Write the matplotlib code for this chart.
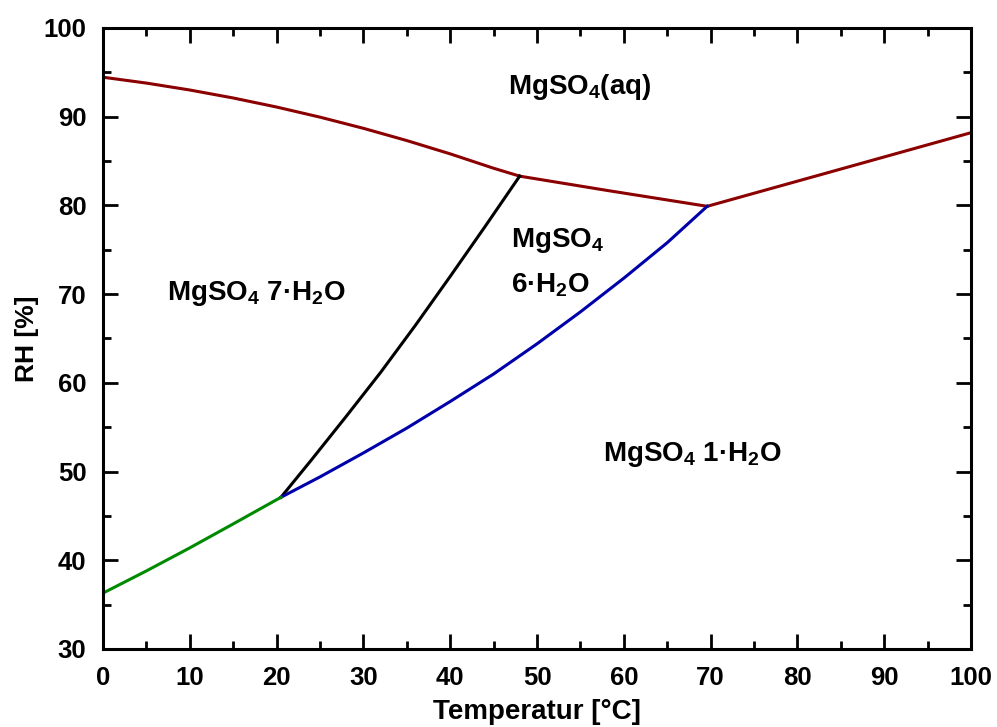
import matplotlib
matplotlib.use("Agg")
import matplotlib.pyplot as plt
from matplotlib.ticker import MultipleLocator

plt.rcParams['font.family'] = ['Liberation Sans', 'DejaVu Sans']
plt.rcParams['font.weight'] = 'bold'
plt.rcParams['mathtext.fontset'] = 'custom'
plt.rcParams['mathtext.rm'] = 'Liberation Sans:bold'
plt.rcParams['mathtext.bf'] = 'Liberation Sans:bold'
plt.rcParams['mathtext.it'] = 'Liberation Sans:bold'
plt.rcParams['mathtext.default'] = 'bf'

# Boundary curves (Temperature in °C, RH in %)
liquidus_T = [0, 5, 10, 15, 20, 25, 30, 35, 40, 45, 48]
liquidus_RH = [94.45, 93.79, 93.01, 92.11, 91.09, 89.95, 88.69, 87.31, 85.81, 84.19, 83.3]
aq_hexa_T = [48, 58, 69.6]
aq_hexa_RH = [83.3, 81.7, 79.9]
aq_mono_T = [69.6, 85, 100]
aq_mono_RH = [79.9, 84.1, 88.2]
hepta_hexa_T = [20.5, 24, 28, 32, 36, 40, 44, 48]
hepta_hexa_RH = [47.1, 51.3, 56.2, 61.2, 66.5, 72.0, 77.6, 83.3]
hexa_mono_T = [20.5, 25, 30, 35, 40, 45, 50, 55, 60, 65, 69.6]
hexa_mono_RH = [47.1, 49.4, 52.1, 54.9, 57.9, 61.0, 64.4, 68.0, 71.8, 75.8, 79.9]
hepta_mono_T = [0, 5, 10, 15, 20.5]
hepta_mono_RH = [36.3, 38.8, 41.4, 44.1, 47.1]

fig = plt.figure(figsize=(9.97, 7.27), dpi=100)
ax = fig.add_axes([0.1033, 0.1073, 0.8707, 0.8542])

red = '#8b0000'
lw = 2.2
ax.plot(liquidus_T, liquidus_RH, color=red, lw=lw)
ax.plot(aq_hexa_T, aq_hexa_RH, color=red, lw=lw)
ax.plot(aq_mono_T, aq_mono_RH, color=red, lw=lw)
ax.plot(hepta_hexa_T, hepta_hexa_RH, color='black', lw=lw)
ax.plot(hexa_mono_T, hexa_mono_RH, color='#0000aa', lw=lw)
ax.plot(hepta_mono_T, hepta_mono_RH, color='#008a00', lw=lw)

ax.set_xlim(0, 100)
ax.set_ylim(30, 100)
ax.xaxis.set_major_locator(MultipleLocator(10))
ax.xaxis.set_minor_locator(MultipleLocator(5))
ax.yaxis.set_major_locator(MultipleLocator(10))
ax.yaxis.set_minor_locator(MultipleLocator(5))
ax.tick_params(which='both', direction='in', top=True, right=True, width=2.0)
ax.tick_params(which='major', length=10.5)
ax.tick_params(which='minor', length=6)
ax.tick_params(axis='x', which='major', pad=12, labelsize=18.5)
ax.tick_params(axis='y', which='major', pad=12, labelsize=18.5)
for lab in ax.get_xticklabels() + ax.get_yticklabels():
    lab.set_fontweight('bold')
for s in ax.spines.values():
    s.set_linewidth(2.2)

ax.set_xlabel('Temperatur [°C]', fontsize=20, fontweight='bold', labelpad=7)
ax.set_ylabel('RH [%]', fontsize=19, fontweight='bold', labelpad=3)

fs = 20
ax.text(46.7, 93.4, r'MgSO$_4$(aq)', fontsize=fs, fontweight='bold', va='center', ha='left')
ax.text(7.4, 70.1, r'MgSO$_4$ 7·H$_2$O', fontsize=fs, fontweight='bold', va='center', ha='left')
ax.text(47.0, 76.1, r'MgSO$_4$', fontsize=fs, fontweight='bold', va='center', ha='left')
ax.text(47.0, 71.0, r'6·H$_2$O', fontsize=fs, fontweight='bold', va='center', ha='left')
ax.text(57.6, 51.9, r'MgSO$_4$ 1·H$_2$O', fontsize=fs, fontweight='bold', va='center', ha='left')

fig.savefig('out.png', dpi=100)
